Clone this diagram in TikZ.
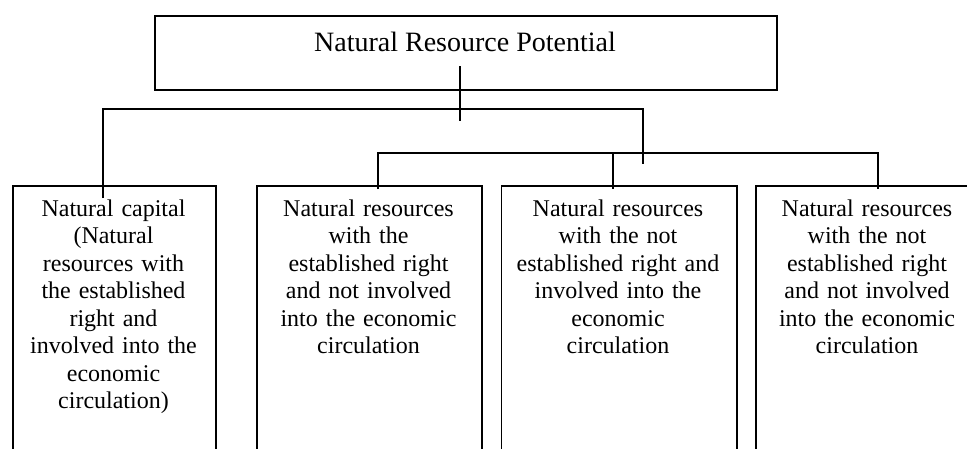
\documentclass[tikz,border=0pt]{standalone}
\usepackage{fontspec}
\setmainfont{Liberation Serif}
\begin{document}
\begin{tikzpicture}[x=1pt,y=-1pt,
  box/.style={draw, line width=1.6pt, inner sep=0pt, anchor=north west},
  conn/.style={line width=1.3pt},
  lbl/.style={inner sep=0pt, align=center, text width=220pt, anchor=north,
    font=\fontsize{24}{27.5}\selectfont}]
\useasboundingbox (0,0) rectangle (967,448);
\clip (0,0) rectangle (967,448);
% top box
\node[box, minimum width=622pt, minimum height=74pt] (top) at (154,15) {};
\node[inner sep=0pt, anchor=base, font=\fontsize{28}{32}\selectfont] (toptext) at (465,51.7) {Natural Resource Potential};
% bottom boxes
\node[box, minimum width=203pt, minimum height=335pt] (b1) at (12,185) {};
\node[box, minimum width=225pt, minimum height=335pt] (b2) at (256,185) {};
\node[box, minimum width=235.5pt, minimum height=335pt] (b3) at (500.5,185) {};
\node[box, minimum width=224pt, minimum height=335pt] (b4) at (755,185) {};
% texts
\node[lbl] (t1) at (113.5,199.3) {Natural capital\\(Natural\\resources with\\the established\\right and\\involved into the\\economic\\circulation)};
\node[lbl] (t2) at (368.5,199.3) {Natural resources\\with the\\established right\\and not involved\\into the economic\\circulation};
\node[lbl] (t3) at (618,199.3) {Natural resources\\with the not\\established right and\\involved into the\\economic\\circulation};
\node[lbl] (t4) at (867,199.3) {Natural resources\\with the not\\established right\\and not involved\\into the economic\\circulation};
% connector coordinates
\coordinate (c0) at (460,66);
\coordinate (c0e) at (460,121);
\coordinate (h1l) at (103,109);
\coordinate (h1r) at (643,109);
\coordinate (d1) at (103,198);
\coordinate (d1r) at (643,164);
\coordinate (h2l) at (378,153);
\coordinate (h2m) at (613,153);
\coordinate (h2r) at (878,153);
\coordinate (d2) at (378,189);
\coordinate (d3) at (613,189);
\coordinate (d4) at (878,189);
% connectors
\draw[conn] (c0) -- (c0e);
\draw[conn] (d1) -- (h1l) -- (h1r) -- (d1r);
\draw[conn] (d2) -- (h2l) -- (h2r) -- (d4);
\draw[conn] (h2m) -- (d3);
\end{tikzpicture}
\end{document}
